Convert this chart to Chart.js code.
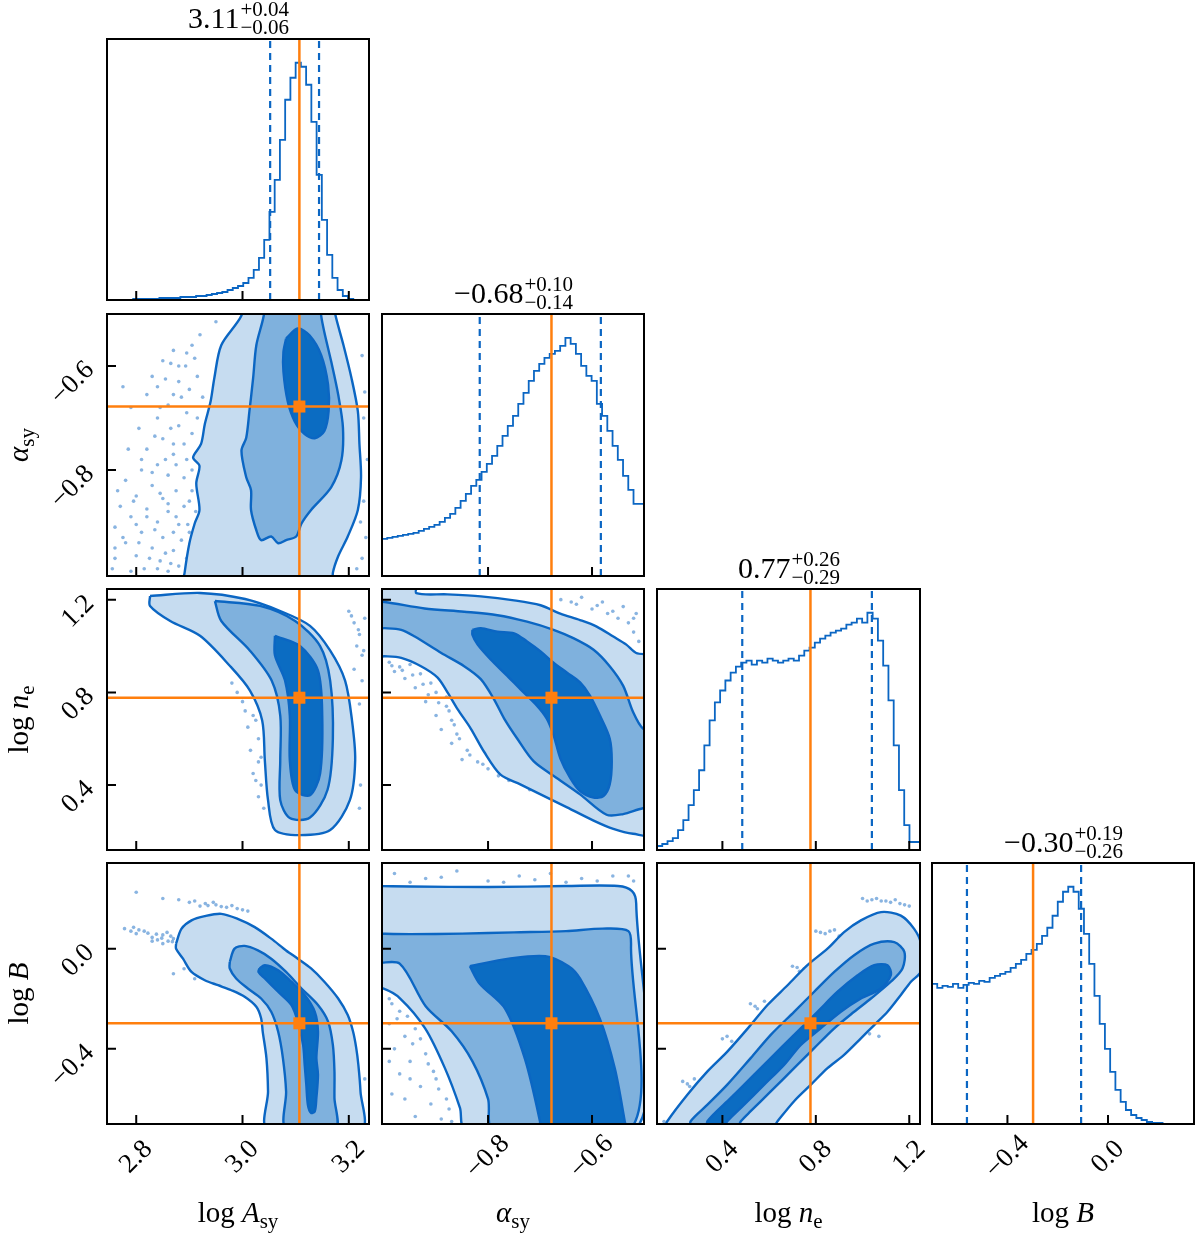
<!DOCTYPE html>
<html lang="en">
<head>
  <meta charset="UTF-8" />
  <title>Corner plot – synchrotron fit</title>
  <script src="https://cdn.jsdelivr.net/npm/chart.js"></script>
  <style>
    body { margin: 0; background: #fff; }
    #wrap { position: relative; width: 1200px; height: 1236px; }
    #wrap canvas { position: absolute; left: 0; top: 0; }
  </style>
</head>
<body>
  <div id="wrap"></div>

  <script>
    // ---- parameters: log A_sy, alpha_sy, log n_e, log B ----
    const axisMin = [2.745, -1.004, 0.12, -0.70];
    const axisMax = [3.238, -0.50, 1.246, 0.342];
    const tickVals = [[2.8, 3.0, 3.2], [-0.8, -0.6], [0.4, 0.8, 1.2], [-0.4, 0.0]];
    const tickText = [['2.8', '3.0', '3.2'], ['−0.8', '−0.6'], ['0.4', '0.8', '1.2'], ['−0.4', '0.0']];
    const medians = [3.107, -0.678, 0.777, -0.298];
    const qLow = [3.052, -0.816, 0.485, -0.561];
    const qHigh = [3.144, -0.583, 1.040, -0.107];
    const titleMain = ['3.11', '−0.68', '0.77', '−0.30'];
    const titleUp = ['+0.04', '+0.10', '+0.26', '+0.19'];
    const titleDown = ['−0.06', '−0.14', '−0.29', '−0.26'];

    // ---- 1D histograms (50 bins over each axis range) ----
    const nBins = 50;
    const histA = [0,0,0,0,0,0,1,1,1,1,1,2,2,2,2,3,3,3,4,4,5,6,7,8,10,12,14,17,22,30,
                   42,60,88,120,160,200,222,237,233,215,178,125,80,45,22,10,4,1,0,0];
    const histAlpha = [36,37,38,39,40,41,42,43,45,47,49,51,54,58,62,68,75,82,90,96,104,112,120,130,140,
                       150,160,172,183,195,205,212,218,222,225,230,238,232,222,210,200,195,172,160,145,130,116,100,86,72];
    const histNe = [2,4,6,9,12,20,30,45,60,80,105,130,148,160,170,178,184,188,190,186,190,188,192,190,188,
                    190,192,190,195,200,203,208,212,215,218,220,222,226,228,232,228,238,232,210,185,150,105,60,25,8];
    const histB = [138,140,136,138,137,140,136,139,141,140,143,142,146,148,150,152,156,160,164,170,174,180,188,196,208,
                   222,232,237,232,215,190,160,128,100,75,52,34,22,14,9,6,4,2,1,1,0,0,0,0,0];

    // ---- 2D contours (outer / middle / inner level) and outlying samples ----
    const aAlOuter = [[2.995,-0.48],[2.998,-0.503],[2.960,-0.560],[2.947,-0.623],[2.940,-0.668],[2.929,-0.712],[2.922,-0.750],[2.907,-0.776],[2.919,-0.792],[2.913,-0.826],[2.919,-0.877],[2.910,-0.903],[2.900,-0.941],[2.891,-0.998],[2.888,-1.03],[3.168,-1.03],[3.170,-0.998],[3.180,-0.966],[3.198,-0.928],[3.217,-0.877],[3.223,-0.814],[3.220,-0.750],[3.217,-0.687],[3.205,-0.623],[3.190,-0.560],[3.175,-0.503],[3.172,-0.48]];
    const aAlMid = [[3.040,-0.48],[3.040,-0.503],[3.026,-0.560],[3.020,-0.623],[3.013,-0.687],[3.007,-0.738],[2.998,-0.763],[3.007,-0.814],[3.016,-0.839],[3.016,-0.877],[3.026,-0.916],[3.035,-0.935],[3.054,-0.928],[3.067,-0.941],[3.082,-0.935],[3.101,-0.928],[3.111,-0.903],[3.129,-0.877],[3.167,-0.833],[3.186,-0.782],[3.189,-0.719],[3.180,-0.655],[3.167,-0.592],[3.154,-0.535],[3.148,-0.503],[3.147,-0.48]];
    const aAlDark = [[3.082,-0.547],[3.104,-0.528],[3.126,-0.541],[3.148,-0.579],[3.161,-0.636],[3.162,-0.687],[3.154,-0.725],[3.136,-0.739],[3.117,-0.731],[3.098,-0.706],[3.085,-0.668],[3.077,-0.611],[3.077,-0.573]];
    const aAlDots = [[2.905,-0.56],[2.91,-0.585],[2.893,-0.60],[2.915,-0.62],[2.88,-0.63],[2.9,-0.645],[2.87,-0.655],[2.925,-0.66],[2.86,-0.675],[2.895,-0.69],[2.915,-0.70],[2.84,-0.70],[2.88,-0.715],[2.905,-0.73],[2.85,-0.74],[2.89,-0.75],[2.82,-0.76],[2.87,-0.77],[2.895,-0.78],[2.84,-0.79],[2.81,-0.80],[2.86,-0.81],[2.89,-0.815],[2.78,-0.82],[2.83,-0.83],[2.875,-0.84],[2.80,-0.85],[2.85,-0.855],[2.90,-0.86],[2.77,-0.87],[2.82,-0.875],[2.86,-0.88],[2.79,-0.89],[2.84,-0.90],[2.88,-0.905],[2.76,-0.91],[2.81,-0.92],[2.85,-0.93],[2.78,-0.94],[2.83,-0.95],[2.87,-0.955],[2.80,-0.965],[2.76,-0.97],[2.845,-0.975],[2.88,-0.985],[2.815,-0.99],[2.79,-0.995],[2.86,-0.995],[2.83,-0.62],[2.85,-0.59],[2.87,-0.57],[2.92,-0.54],[2.95,-0.515],
                     [2.775,-0.64],[2.79,-0.68],[2.805,-0.72],[2.82,-0.655],[2.835,-0.735],[2.845,-0.68],[2.855,-0.625],[2.865,-0.72],[2.875,-0.79],[2.885,-0.66],[2.89,-0.87],[2.9,-0.92],[2.905,-0.80],[2.91,-0.95],[2.895,-0.97],[2.87,-0.92],[2.855,-0.96],[2.835,-0.915],[2.825,-0.97],[2.805,-0.94],[2.795,-0.86],[2.775,-0.93],[2.765,-0.84],[2.785,-0.76],[2.81,-0.78],[2.83,-0.805],[2.845,-0.845],[2.86,-0.865],[2.875,-0.89],[2.885,-0.935],[2.865,-0.98],[2.84,-0.99],[2.8,-0.905],[2.82,-0.89],[2.855,-0.78],[2.87,-0.75],[2.88,-0.60],[2.895,-0.575],[2.865,-0.595],[2.84,-0.64],[2.905,-0.84],[2.912,-0.88],[2.897,-0.905],[2.755,-0.99],[2.76,-0.95],
                     [3.225,-0.58],[3.23,-0.65],[3.228,-0.86],[3.232,-0.93],[3.225,-0.97],[3.235,-0.78],[3.215,-0.99],[3.228,-0.70],[3.222,-0.90]];

    const aNeOuter = [[2.826,1.216],[2.920,1.229],[3.005,1.203],[3.071,1.151],[3.127,1.087],[3.165,0.980],[3.193,0.851],[3.206,0.679],[3.212,0.507],[3.202,0.335],[3.165,0.206],[3.108,0.184],[3.061,0.206],[3.048,0.335],[3.042,0.507],[3.037,0.679],[3.014,0.808],[2.976,0.915],[2.920,1.044],[2.864,1.108],[2.826,1.173]];
    const aNeMid = [[2.948,1.194],[3.033,1.173],[3.099,1.108],[3.146,1.000],[3.165,0.850],[3.170,0.600],[3.160,0.380],[3.127,0.260],[3.089,0.258],[3.071,0.335],[3.071,0.507],[3.071,0.700],[3.055,0.850],[3.014,0.980],[2.960,1.108]];
    const aNeDark = [[3.061,1.044],[3.108,1.000],[3.142,0.894],[3.150,0.700],[3.146,0.450],[3.127,0.356],[3.099,0.378],[3.089,0.507],[3.089,0.700],[3.080,0.851],[3.061,0.960]];
    const aNeDots = [[3.00,0.76],[3.02,0.70],[3.01,0.65],[3.03,0.60],[3.015,0.55],[3.03,0.50],[3.02,0.45],[3.035,0.40],[3.03,0.35],[3.04,0.30],[3.21,1.10],[3.22,1.05],[3.215,1.00],[3.225,0.96],[3.23,1.12],[3.20,1.15],[2.99,0.80],[2.98,0.84],[3.21,0.90],[3.225,0.85],[3.22,0.75],[3.222,0.40],[3.22,0.30],[3.025,0.68],[3.005,0.72],[3.035,0.52],[3.025,0.42],[3.218,1.07],[3.228,0.98],[3.205,1.13]];

    const alNeOuter = [[-1.02,1.27],[-0.938,1.27],[-0.938,1.228],[-0.878,1.223],[-0.814,1.214],[-0.750,1.197],[-0.699,1.176],[-0.661,1.140],[-0.623,1.112],[-0.591,1.084],[-0.559,1.041],[-0.534,1.006],[-0.515,0.970],[-0.48,0.95],[-0.48,0.19],[-0.521,0.190],[-0.559,0.211],[-0.597,0.247],[-0.648,0.304],[-0.699,0.360],[-0.738,0.403],[-0.776,0.445],[-0.808,0.545],[-0.833,0.643],[-0.859,0.729],[-0.878,0.800],[-0.897,0.864],[-0.929,0.913],[-0.967,0.949],[-0.999,0.956],[-1.02,0.956]];
    const alNeMid = [[-1.02,1.19],[-0.999,1.190],[-0.922,1.162],[-0.846,1.148],[-0.782,1.133],[-0.725,1.105],[-0.674,1.070],[-0.636,1.034],[-0.597,0.984],[-0.566,0.913],[-0.540,0.828],[-0.521,0.715],[-0.502,0.644],[-0.48,0.64],[-0.48,0.30],[-0.502,0.300],[-0.540,0.275],[-0.572,0.272],[-0.623,0.360],[-0.668,0.431],[-0.712,0.502],[-0.744,0.601],[-0.769,0.687],[-0.789,0.772],[-0.814,0.857],[-0.846,0.913],[-0.890,0.970],[-0.941,1.041],[-0.967,1.070],[-0.999,1.077],[-1.02,1.077]];
    const alNeDark = [[-0.830,1.070],[-0.814,1.077],[-0.782,1.062],[-0.750,1.055],[-0.725,1.020],[-0.699,0.977],[-0.674,0.928],[-0.648,0.885],[-0.623,0.843],[-0.604,0.786],[-0.585,0.701],[-0.566,0.601],[-0.562,0.502],[-0.566,0.403],[-0.578,0.353],[-0.597,0.346],[-0.623,0.374],[-0.642,0.431],[-0.661,0.516],[-0.674,0.616],[-0.687,0.687],[-0.706,0.743],[-0.738,0.814],[-0.763,0.871],[-0.795,0.942],[-0.820,1.006],[-0.830,1.048]];
    const alNeDots = [[-0.66,1.20],[-0.63,1.18],[-0.60,1.16],[-0.57,1.14],[-0.55,1.12],[-0.53,1.10],[-0.52,1.06],[-0.51,1.02],[-0.58,1.19],[-0.54,1.17],[-0.62,1.21],[-0.515,1.14],[-0.99,0.93],[-0.97,0.91],[-0.95,0.92],[-0.93,0.88],[-0.96,0.86],[-0.91,0.84],[-0.94,0.82],[-0.90,0.80],[-0.92,0.76],[-0.88,0.74],[-0.90,0.70],[-0.87,0.68],[-0.89,0.64],[-0.86,0.62],[-0.87,0.58],[-0.84,0.55],[-0.85,0.51],[-0.82,0.50],[-0.98,0.89],[-0.88,0.78],[-0.80,0.47],[-0.76,0.42],[-0.72,0.38],
                      [-0.985,0.915],[-0.965,0.895],[-0.945,0.875],[-0.925,0.835],[-0.915,0.79],[-0.895,0.755],[-0.875,0.72],[-0.865,0.66],[-0.855,0.60],[-0.835,0.53],[-0.81,0.49],[-0.78,0.44],[-0.64,1.19],[-0.59,1.175],[-0.56,1.15],[-0.52,1.12]];

    const aBOuter = [[2.875,0.020],[2.885,0.079],[2.904,0.113],[2.929,0.130],[2.960,0.139],[2.991,0.119],[3.023,0.086],[3.054,0.040],[3.082,-0.007],[3.104,-0.040],[3.129,-0.079],[3.154,-0.132],[3.180,-0.199],[3.198,-0.265],[3.208,-0.331],[3.214,-0.397],[3.218,-0.464],[3.222,-0.570],[3.224,-0.72],[3.047,-0.72],[3.048,-0.570],[3.045,-0.437],[3.038,-0.331],[3.035,-0.278],[3.026,-0.232],[3.004,-0.192],[2.979,-0.166],[2.954,-0.146],[2.929,-0.126],[2.904,-0.093],[2.888,-0.040],[2.875,0.000]];
    const aBMid = [[2.976,-0.053],[2.985,0.000],[3.004,0.011],[3.029,-0.007],[3.054,-0.040],[3.082,-0.093],[3.111,-0.159],[3.142,-0.225],[3.161,-0.291],[3.170,-0.384],[3.173,-0.490],[3.173,-0.596],[3.175,-0.72],[3.082,-0.72],[3.082,-0.570],[3.076,-0.437],[3.067,-0.331],[3.054,-0.252],[3.035,-0.199],[3.010,-0.159],[2.988,-0.119],[2.976,-0.079]];
    const aBDark = [[3.032,-0.079],[3.042,-0.066],[3.067,-0.086],[3.092,-0.132],[3.117,-0.185],[3.136,-0.252],[3.142,-0.331],[3.139,-0.437],[3.142,-0.503],[3.139,-0.596],[3.136,-0.649],[3.129,-0.656],[3.123,-0.623],[3.120,-0.543],[3.117,-0.464],[3.114,-0.384],[3.104,-0.291],[3.092,-0.225],[3.067,-0.172],[3.042,-0.119],[3.030,-0.093]];
    const aBDots = [[2.778,0.080],[2.79,0.070],[2.80,0.060],[2.815,0.070],[2.83,0.045],[2.84,0.035],[2.85,0.055],[2.86,0.030],[2.865,0.050],[2.87,0.040],[2.85,0.020],[2.83,0.030],[2.90,0.185],[2.93,0.180],[2.95,0.175],[2.97,0.165],[2.99,0.160],[2.92,0.170],[2.88,0.195],[2.80,0.225],[2.85,0.200],[3.01,0.150],[2.89,-0.080],[2.87,-0.100],[3.035,-0.25],[3.04,-0.30],[3.045,-0.40],[3.05,-0.45],[3.22,-0.60],[3.225,-0.65],[3.23,-0.52],
                    [2.795,0.085],[2.805,0.075],[2.822,0.062],[2.838,0.058],[2.848,0.042],[2.858,0.065],[2.868,0.028],[2.935,0.172],[2.96,0.168],[2.98,0.172],[2.945,0.185],[2.91,0.19],[3.0,0.155],[2.91,-0.12],[3.042,-0.35]];

    const alBOuter = [[-1.02,0.25],[-0.95,0.248],[-0.80,0.246],[-0.65,0.25],[-0.55,0.25],[-0.523,0.23],[-0.515,0.18],[-0.515,-0.72],[-0.844,-0.72],[-0.854,-0.636],[-0.883,-0.477],[-0.921,-0.318],[-0.969,-0.199],[-1.002,-0.159],[-1.02,-0.159]];
    const alBMid = [[-1.02,0.06],[-0.95,0.058],[-0.85,0.06],[-0.75,0.065],[-0.65,0.07],[-0.58,0.08],[-0.53,0.07],[-0.525,0.0],[-0.525,-0.72],[-0.79,-0.72],[-0.80,-0.6],[-0.83,-0.45],[-0.87,-0.33],[-0.92,-0.23],[-0.97,-0.06],[-1.02,-0.05]];
    const alBDark = [[-0.835,-0.07],[-0.76,-0.04],[-0.69,-0.03],[-0.645,-0.07],[-0.623,-0.12],[-0.585,-0.28],[-0.556,-0.48],[-0.537,-0.69],[-0.535,-0.72],[-0.70,-0.72],[-0.70,-0.69],[-0.729,-0.44],[-0.767,-0.24],[-0.816,-0.14]];
    const alBDots = [[-0.98,0.30],[-0.92,0.28],[-0.86,0.31],[-0.80,0.27],[-0.74,0.29],[-0.68,0.30],[-0.62,0.28],[-0.56,0.29],[-0.52,0.27],[-0.95,0.265],[-0.77,0.265],[-0.65,0.265],[-0.99,-0.20],[-0.97,-0.25],[-0.99,-0.30],[-0.96,-0.35],[-0.94,-0.32],[-0.98,-0.40],[-0.95,-0.45],[-0.92,-0.42],[-0.97,-0.50],[-0.93,-0.55],[-0.90,-0.52],[-0.96,-0.60],[-0.91,-0.62],[-0.88,-0.60],[-0.94,-0.67],[-0.89,-0.68],
                     [-0.985,-0.22],[-0.975,-0.28],[-0.955,-0.27],[-0.945,-0.38],[-0.93,-0.36],[-0.915,-0.46],[-0.905,-0.49],[-0.895,-0.56],[-0.875,-0.64],[-0.87,-0.69],[-0.95,-0.52],[-0.99,-0.45],[-0.985,-0.58],[-0.89,0.285],[-0.71,0.275],[-0.59,0.27],[-0.53,0.29]];

    const neBOuter = [[0.15,-0.72],[0.164,-0.689],[0.250,-0.583],[0.336,-0.490],[0.421,-0.411],[0.521,-0.305],[0.593,-0.225],[0.679,-0.146],[0.764,-0.066],[0.850,0.000],[0.921,0.066],[0.993,0.113],[1.079,0.146],[1.164,0.132],[1.221,0.079],[1.25,0.02],[1.25,-0.09],[1.207,-0.132],[1.164,-0.185],[1.107,-0.252],[1.050,-0.305],[0.993,-0.358],[0.921,-0.424],[0.850,-0.477],[0.779,-0.543],[0.707,-0.609],[0.636,-0.689],[0.61,-0.72]];
    const neBMid = [[0.264,-0.72],[0.264,-0.689],[0.336,-0.623],[0.421,-0.543],[0.521,-0.437],[0.607,-0.344],[0.707,-0.252],[0.793,-0.172],[0.879,-0.093],[0.964,-0.026],[1.050,0.020],[1.136,0.026],[1.179,-0.013],[1.171,-0.079],[1.121,-0.132],[1.036,-0.199],[0.964,-0.252],[0.879,-0.318],[0.793,-0.397],[0.707,-0.477],[0.607,-0.570],[0.521,-0.649],[0.479,-0.689],[0.46,-0.72]];
    const neBDark = [[0.336,-0.72],[0.336,-0.689],[0.436,-0.596],[0.536,-0.503],[0.607,-0.437],[0.707,-0.344],[0.807,-0.252],[0.893,-0.172],[0.979,-0.106],[1.050,-0.066],[1.107,-0.066],[1.121,-0.106],[1.079,-0.159],[0.993,-0.199],[0.907,-0.252],[0.821,-0.318],[0.736,-0.384],[0.664,-0.464],[0.579,-0.543],[0.479,-0.636],[0.421,-0.689],[0.40,-0.72]];
    const neBDots = [[1.00,0.20],[1.04,0.195],[1.08,0.19],[1.12,0.185],[1.16,0.18],[1.20,0.17],[1.06,0.20],[1.14,0.195],[0.80,0.07],[0.84,0.06],[0.88,0.075],[0.90,0.05],[0.70,-0.07],[0.73,-0.09],[0.75,-0.08],[0.52,-0.22],[0.55,-0.24],[0.58,-0.21],[0.40,-0.36],[0.44,-0.37],[0.23,-0.53],[0.26,-0.55],[0.28,-0.52],[1.03,-0.34],[1.07,-0.35],[0.84,-0.45],[0.88,-0.44],[0.68,-0.58],[0.15,-0.69],[1.23,-0.10],
                     [1.02,0.19],[1.10,0.19],[1.18,0.175],[0.82,0.065],[0.86,0.07],[0.72,-0.075],[0.54,-0.23],[0.42,-0.35],[0.25,-0.54],[0.86,-0.445]];

    // ---- layout / style ----
    const colPx = [[107, 369], [382, 644], [657, 920], [932, 1194]];
    const rowPx = [[39, 300], [314, 576], [589, 850], [863, 1124]];
    const W = 1200, H = 1236;
    const FONT = '"Liberation Serif", "DejaVu Serif", serif';
    const BLUE = '#0b66c3', MID = '#7fb1dd', LIGHT = '#c6dcf0', DARK = '#0b6cc2', ORANGE = '#ff7f0e';

    const axisTitles = [
      [{t: 'log ', s: 29}, {t: 'A', s: 29, i: 1}, {t: 'sy', s: 21, dy: 6}],
      [{t: 'α', s: 29, i: 1}, {t: 'sy', s: 21, dy: 6}],
      [{t: 'log ', s: 29}, {t: 'n', s: 29, i: 1}, {t: 'e', s: 21, dy: 6}],
      [{t: 'log ', s: 29}, {t: 'B', s: 29, i: 1}]
    ];

    const font = (s, it) => (it ? 'italic ' : '') + s + 'px ' + FONT;

    function drawRuns(ctx, runs, cx, y) {
      let w = 0;
      runs.forEach(r => { ctx.font = font(r.s, r.i); r.w = ctx.measureText(r.t).width; w += r.w; });
      let x = cx - w / 2;
      ctx.textAlign = 'left'; ctx.textBaseline = 'alphabetic';
      runs.forEach(r => { ctx.font = font(r.s, r.i); ctx.fillText(r.t, x, y + (r.dy || 0)); x += r.w; });
    }

    // frame, inward ticks, rotated tick labels, axis titles, panel titles
    const cornerPlugin = {
      id: 'corner',
      afterDraw(chart, args, o) {
        const {ctx, chartArea: a, scales: {x, y}} = chart;
        ctx.save();
        ctx.strokeStyle = '#000'; ctx.fillStyle = '#000'; ctx.lineWidth = 2;
        ctx.beginPath();
        o.xt.forEach(v => { const p = x.getPixelForValue(v); ctx.moveTo(p, a.bottom); ctx.lineTo(p, a.bottom - 9); });
        (o.yt || []).forEach(v => { const p = y.getPixelForValue(v); ctx.moveTo(a.left, p); ctx.lineTo(a.left + 9, p); });
        ctx.stroke();
        ctx.strokeRect(a.left, a.top, a.right - a.left, a.bottom - a.top);

        ctx.font = font(27);
        if (o.xl) o.xt.forEach((v, k) => {
          ctx.save();
          ctx.translate(x.getPixelForValue(v), a.bottom + 33);
          ctx.rotate(-Math.PI / 4);
          ctx.textAlign = 'center'; ctx.textBaseline = 'middle';
          ctx.fillText(o.xl[k], 0, 0);
          ctx.restore();
        });
        if (o.yl) o.yt.forEach((v, k) => {
          ctx.save();
          ctx.translate(a.left - 17, y.getPixelForValue(v));
          ctx.rotate(-Math.PI / 4);
          ctx.textAlign = 'right'; ctx.textBaseline = 'middle';
          ctx.fillText(o.yl[k], 0, 0);
          ctx.restore();
        });
        if (o.xTitle) drawRuns(ctx, o.xTitle, (a.left + a.right) / 2, 1222);
        if (o.yTitle) {
          ctx.save();
          ctx.translate(28, (a.top + a.bottom) / 2);
          ctx.rotate(-Math.PI / 2);
          drawRuns(ctx, o.yTitle, 0, 0);
          ctx.restore();
        }
        if (o.title) {
          const [m, up, dn] = o.title;
          ctx.font = font(30); const wm = ctx.measureText(m).width;
          ctx.font = font(21); const ws = Math.max(ctx.measureText(up).width, ctx.measureText(dn).width);
          const x0 = (a.left + a.right) / 2 - (wm + ws) / 2, base = a.top - 11;
          ctx.textAlign = 'left'; ctx.textBaseline = 'alphabetic';
          ctx.font = font(30); ctx.fillText(m, x0, base);
          ctx.font = font(21); ctx.fillText(up, x0 + wm + 1, base - 12); ctx.fillText(dn, x0 + wm + 1, base + 6);
        }
        ctx.restore();
      }
    };

    const pts = arr => arr.map(p => ({x: p[0], y: p[1]}));
    const closed = arr => pts(arr.concat([arr[0]]));
    const vline = (v, lo, hi) => [{x: v, y: lo}, {x: v, y: hi}];
    const hline = (v, lo, hi) => [{x: lo, y: v}, {x: hi, y: v}];

    function addChart(c, r, datasets, ymin, ymax, corner) {
      const cv = document.createElement('canvas');
      cv.width = W; cv.height = H;
      document.getElementById('wrap').appendChild(cv);
      return new Chart(cv, {
        type: 'line',
        data: {datasets},
        options: {
          responsive: false, animation: false, events: [],
          layout: {autoPadding: false, padding: {left: colPx[c][0], right: W - colPx[c][1], top: rowPx[r][0], bottom: H - rowPx[r][1]}},
          scales: {
            x: {type: 'linear', display: false, min: axisMin[c], max: axisMax[c]},
            y: {type: 'linear', display: false, min: ymin, max: ymax}
          },
          plugins: {legend: {display: false}, tooltip: {enabled: false}, corner}
        },
        plugins: [cornerPlugin]
      });
    }

    const contour = (arr, color, order) => ({
      data: closed(arr), fill: 'shape', backgroundColor: color, borderColor: BLUE,
      borderWidth: 2.4, pointRadius: 0, tension: 0.3, order
    });

    // ---- diagonal: histograms ----
    const hists = [histA, histAlpha, histNe, histB];
    hists.forEach((h, i) => {
      const bw = (axisMax[i] - axisMin[i]) / nBins;
      const step = [{x: axisMin[i], y: 0}];
      h.forEach((v, k) => step.push({x: axisMin[i] + k * bw, y: v}));
      step.push({x: axisMax[i], y: h[h.length - 1]}, {x: axisMax[i], y: 0});
      const top = Math.max(...h) * 1.1;
      addChart(i, i, [
        {data: step, stepped: 'after', borderColor: BLUE, borderWidth: 1.8, pointRadius: 0, order: 3},
        {data: vline(qLow[i], 0, top), borderColor: BLUE, borderWidth: 2.2, borderDash: [7, 5], pointRadius: 0, order: 2},
        {data: vline(qHigh[i], 0, top), borderColor: BLUE, borderWidth: 2.2, borderDash: [7, 5], pointRadius: 0, order: 2},
        {data: vline(medians[i], 0, top), borderColor: ORANGE, borderWidth: 2.5, pointRadius: 0, order: 1}
      ], 0, top, {
        xt: tickVals[i],
        xl: i === 3 ? tickText[i] : null,
        xTitle: i === 3 ? axisTitles[i] : null,
        title: [titleMain[i], titleUp[i], titleDown[i]]
      });
    });

    // ---- off-diagonal: 2D densities ----
    const pairs = [
      {r: 1, c: 0, outer: aAlOuter, mid: aAlMid, dark: aAlDark, dots: aAlDots},
      {r: 2, c: 0, outer: aNeOuter, mid: aNeMid, dark: aNeDark, dots: aNeDots},
      {r: 2, c: 1, outer: alNeOuter, mid: alNeMid, dark: alNeDark, dots: alNeDots},
      {r: 3, c: 0, outer: aBOuter, mid: aBMid, dark: aBDark, dots: aBDots},
      {r: 3, c: 1, outer: alBOuter, mid: alBMid, dark: alBDark, dots: alBDots},
      {r: 3, c: 2, outer: neBOuter, mid: neBMid, dark: neBDark, dots: neBDots}
    ];
    pairs.forEach(p => {
      const {r, c} = p;
      addChart(c, r, [
        {data: pts(p.dots), showLine: false, pointRadius: 1.8, pointBorderWidth: 0, pointBackgroundColor: 'rgba(20,105,195,0.5)', order: 6},
        contour(p.outer, LIGHT, 5),
        contour(p.mid, MID, 4),
        contour(p.dark, DARK, 3),
        {data: vline(medians[c], axisMin[r] - 1, axisMax[r] + 1), borderColor: ORANGE, borderWidth: 2.5, pointRadius: 0, order: 2},
        {data: hline(medians[r], axisMin[c] - 1, axisMax[c] + 1), borderColor: ORANGE, borderWidth: 2.5, pointRadius: 0, order: 2},
        {data: [{x: medians[c], y: medians[r]}], showLine: false, pointStyle: 'rect', pointRadius: 8.5, pointBorderWidth: 0, pointBackgroundColor: ORANGE, order: 1}
      ], axisMin[r], axisMax[r], {
        xt: tickVals[c], yt: tickVals[r],
        xl: r === 3 ? tickText[c] : null,
        yl: c === 0 ? tickText[r] : null,
        xTitle: r === 3 ? axisTitles[c] : null,
        yTitle: c === 0 ? axisTitles[r] : null
      });
    });
  </script>
</body>
</html>
